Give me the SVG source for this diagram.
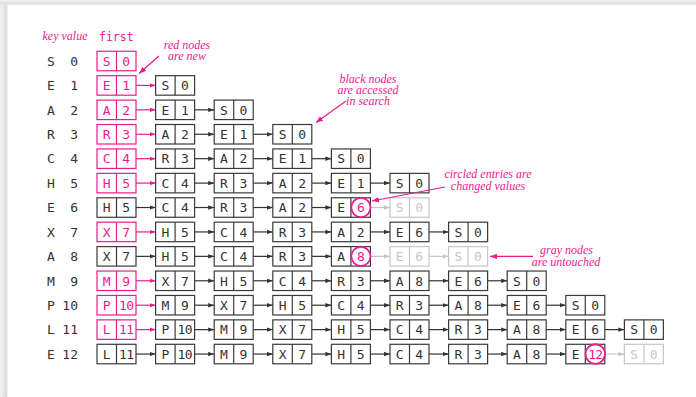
<svg xmlns="http://www.w3.org/2000/svg" xmlns:xlink="http://www.w3.org/1999/xlink" width="696" height="397" viewBox="0 0 696 397">
<style>
.nb{stroke:#3a3a3a;stroke-width:1.2}
.np{stroke:#ec1c8c;stroke-width:1.2}
.ng{stroke:#c6c6c6;stroke-width:1.2}
.nb text,.np text,.ng text,.key text{font-family:"DejaVu Sans Mono",monospace;font-size:13px;text-anchor:middle;stroke:none}
.nb text{fill:#333}
.np text{fill:#ec1c8c}
.ng text{fill:#c6c6c6}
.nb text.pt{fill:#ec1c8c}
.circ{fill:#fff;stroke:#ec1c8c;stroke-width:1.8}
.key text{fill:#333}
.key text.v{text-anchor:end}
.cb{stroke:#333;stroke-width:1.2;marker-end:url(#ab)}
.cp{stroke:#ec1c8c;stroke-width:1.2;marker-end:url(#ap)}
.cg{stroke:#c6c6c6;stroke-width:1.2;marker-end:url(#ag)}
.ann{font-family:"Liberation Serif",serif;font-style:italic;font-size:12px;fill:#ec1c8c;text-anchor:middle}
.ca{stroke:#ec1c8c;stroke-width:1.2;marker-end:url(#ap2)}
.hd{fill:#ec1c8c;font-family:"DejaVu Sans Mono",monospace;font-size:11.5px}
</style>
<defs>
<g id="box"><rect width="39" height="19.5" fill="#fff"/><line x1="19.5" y1="0" x2="19.5" y2="19.5"/></g>
<marker id="ab" markerWidth="6" markerHeight="5" refX="6" refY="2.5" orient="auto" markerUnits="userSpaceOnUse"><path d="M0,0.3L6,2.5L0,4.7z" fill="#333"/></marker>
<marker id="ap" markerWidth="6" markerHeight="5" refX="6" refY="2.5" orient="auto" markerUnits="userSpaceOnUse"><path d="M0,0.3L6,2.5L0,4.7z" fill="#ec1c8c"/></marker>
<marker id="ag" markerWidth="6" markerHeight="5" refX="6" refY="2.5" orient="auto" markerUnits="userSpaceOnUse"><path d="M0,0.3L6,2.5L0,4.7z" fill="#c6c6c6"/></marker>
<marker id="ap2" markerWidth="7" markerHeight="6" refX="7" refY="3" orient="auto" markerUnits="userSpaceOnUse"><path d="M0,0.3L7,3L0,5.7z" fill="#ec1c8c"/></marker>
<linearGradient id="lg" x1="0" y1="0" x2="1" y2="0"><stop offset="0" stop-color="#f2f2f2"/><stop offset="0.85" stop-color="#dcdcdc"/><stop offset="1" stop-color="#ffffff"/></linearGradient>
<linearGradient id="tg" x1="0" y1="0" x2="0" y2="1"><stop offset="0" stop-color="#f2f2f2"/><stop offset="0.85" stop-color="#dcdcdc"/><stop offset="1" stop-color="#ffffff"/></linearGradient>
</defs>
<rect width="696" height="397" fill="#fff"/>
<rect x="0" y="0" width="8" height="397" fill="url(#lg)"/>
<rect x="0" y="0" width="696" height="5" fill="url(#tg)"/>

<g id="header">
<text class="ann" x="65" y="39.5">key value</text>
<text class="hd" x="99" y="40.5">first</text>
</g>

<g class="key" id="keys">
<text x="51" y="65.7">S</text><text class="v" x="78" y="65.7">0</text>
<text x="51" y="90.1">E</text><text class="v" x="78" y="90.1">1</text>
<text x="51" y="114.5">A</text><text class="v" x="78" y="114.5">2</text>
<text x="51" y="139">R</text><text class="v" x="78" y="139">3</text>
<text x="51" y="163.4">C</text><text class="v" x="78" y="163.4">4</text>
<text x="51" y="187.8">H</text><text class="v" x="78" y="187.8">5</text>
<text x="51" y="212.2">E</text><text class="v" x="78" y="212.2">6</text>
<text x="51" y="236.6">X</text><text class="v" x="78" y="236.6">7</text>
<text x="51" y="261.1">A</text><text class="v" x="78" y="261.1">8</text>
<text x="51" y="285.5">M</text><text class="v" x="78" y="285.5">9</text>
<text x="51" y="309.9">P</text><text class="v" x="78" y="309.9">10</text>
<text x="51" y="334.3">L</text><text class="v" x="78" y="334.3">11</text>
<text x="51" y="358.7">E</text><text class="v" x="78" y="358.7">12</text>
</g>

<g id="connectors">
<line class="cp" x1="136" y1="85.42" x2="155.6" y2="85.42"/>
<line class="cp" x1="136" y1="109.84" x2="155.6" y2="109.84"/>
<line class="cb" x1="194.6" y1="109.84" x2="214.2" y2="109.84"/>
<line class="cp" x1="136" y1="134.26" x2="155.6" y2="134.26"/>
<line class="cb" x1="194.6" y1="134.26" x2="214.2" y2="134.26"/>
<line class="cb" x1="253.2" y1="134.26" x2="272.8" y2="134.26"/>
<line class="cp" x1="136" y1="158.68" x2="155.6" y2="158.68"/>
<line class="cb" x1="194.6" y1="158.68" x2="214.2" y2="158.68"/>
<line class="cb" x1="253.2" y1="158.68" x2="272.8" y2="158.68"/>
<line class="cb" x1="311.8" y1="158.68" x2="331.4" y2="158.68"/>
<line class="cp" x1="136" y1="183.1" x2="155.6" y2="183.1"/>
<line class="cb" x1="194.6" y1="183.1" x2="214.2" y2="183.1"/>
<line class="cb" x1="253.2" y1="183.1" x2="272.8" y2="183.1"/>
<line class="cb" x1="311.8" y1="183.1" x2="331.4" y2="183.1"/>
<line class="cb" x1="370.4" y1="183.1" x2="390" y2="183.1"/>
<line class="cb" x1="136" y1="207.52" x2="155.6" y2="207.52"/>
<line class="cb" x1="194.6" y1="207.52" x2="214.2" y2="207.52"/>
<line class="cb" x1="253.2" y1="207.52" x2="272.8" y2="207.52"/>
<line class="cb" x1="311.8" y1="207.52" x2="331.4" y2="207.52"/>
<line class="cg" x1="371" y1="207.52" x2="390" y2="207.52"/>
<line class="cp" x1="136" y1="231.94" x2="155.6" y2="231.94"/>
<line class="cb" x1="194.6" y1="231.94" x2="214.2" y2="231.94"/>
<line class="cb" x1="253.2" y1="231.94" x2="272.8" y2="231.94"/>
<line class="cb" x1="311.8" y1="231.94" x2="331.4" y2="231.94"/>
<line class="cb" x1="370.4" y1="231.94" x2="390" y2="231.94"/>
<line class="cb" x1="429" y1="231.94" x2="448.6" y2="231.94"/>
<line class="cb" x1="136" y1="256.36" x2="155.6" y2="256.36"/>
<line class="cb" x1="194.6" y1="256.36" x2="214.2" y2="256.36"/>
<line class="cb" x1="253.2" y1="256.36" x2="272.8" y2="256.36"/>
<line class="cb" x1="311.8" y1="256.36" x2="331.4" y2="256.36"/>
<line class="cg" x1="371" y1="256.36" x2="390" y2="256.36"/>
<line class="cg" x1="429" y1="256.36" x2="448.6" y2="256.36"/>
<line class="cp" x1="136" y1="280.78" x2="155.6" y2="280.78"/>
<line class="cb" x1="194.6" y1="280.78" x2="214.2" y2="280.78"/>
<line class="cb" x1="253.2" y1="280.78" x2="272.8" y2="280.78"/>
<line class="cb" x1="311.8" y1="280.78" x2="331.4" y2="280.78"/>
<line class="cb" x1="370.4" y1="280.78" x2="390" y2="280.78"/>
<line class="cb" x1="429" y1="280.78" x2="448.6" y2="280.78"/>
<line class="cb" x1="487.6" y1="280.78" x2="507.2" y2="280.78"/>
<line class="cp" x1="136" y1="305.2" x2="155.6" y2="305.2"/>
<line class="cb" x1="194.6" y1="305.2" x2="214.2" y2="305.2"/>
<line class="cb" x1="253.2" y1="305.2" x2="272.8" y2="305.2"/>
<line class="cb" x1="311.8" y1="305.2" x2="331.4" y2="305.2"/>
<line class="cb" x1="370.4" y1="305.2" x2="390" y2="305.2"/>
<line class="cb" x1="429" y1="305.2" x2="448.6" y2="305.2"/>
<line class="cb" x1="487.6" y1="305.2" x2="507.2" y2="305.2"/>
<line class="cb" x1="546.2" y1="305.2" x2="565.8" y2="305.2"/>
<line class="cp" x1="136" y1="329.62" x2="155.6" y2="329.62"/>
<line class="cb" x1="194.6" y1="329.62" x2="214.2" y2="329.62"/>
<line class="cb" x1="253.2" y1="329.62" x2="272.8" y2="329.62"/>
<line class="cb" x1="311.8" y1="329.62" x2="331.4" y2="329.62"/>
<line class="cb" x1="370.4" y1="329.62" x2="390" y2="329.62"/>
<line class="cb" x1="429" y1="329.62" x2="448.6" y2="329.62"/>
<line class="cb" x1="487.6" y1="329.62" x2="507.2" y2="329.62"/>
<line class="cb" x1="546.2" y1="329.62" x2="565.8" y2="329.62"/>
<line class="cb" x1="604.8" y1="329.62" x2="624.4" y2="329.62"/>
<line class="cb" x1="136" y1="354.04" x2="155.6" y2="354.04"/>
<line class="cb" x1="194.6" y1="354.04" x2="214.2" y2="354.04"/>
<line class="cb" x1="253.2" y1="354.04" x2="272.8" y2="354.04"/>
<line class="cb" x1="311.8" y1="354.04" x2="331.4" y2="354.04"/>
<line class="cb" x1="370.4" y1="354.04" x2="390" y2="354.04"/>
<line class="cb" x1="429" y1="354.04" x2="448.6" y2="354.04"/>
<line class="cb" x1="487.6" y1="354.04" x2="507.2" y2="354.04"/>
<line class="cb" x1="546.2" y1="354.04" x2="565.8" y2="354.04"/>
<line class="cg" x1="606" y1="354.04" x2="624.4" y2="354.04"/>
</g>

<g id="nodes">
<!-- row 0 -->
<g id="n0_0" class="np" transform="translate(97,51.25)"><use href="#box"/><text x="9.75" y="14.5">S</text><text x="29.25" y="14.5">0</text></g>
<!-- row 1 -->
<g id="n1_0" class="np" transform="translate(97,75.67)"><use href="#box"/><text x="9.75" y="14.5">E</text><text x="29.25" y="14.5">1</text></g>
<g id="n1_1" class="nb" transform="translate(155.6,75.67)"><use href="#box"/><text x="9.75" y="14.5">S</text><text x="29.25" y="14.5">0</text></g>
<!-- row 2 -->
<g id="n2_0" class="np" transform="translate(97,100.09)"><use href="#box"/><text x="9.75" y="14.5">A</text><text x="29.25" y="14.5">2</text></g>
<g id="n2_1" class="nb" transform="translate(155.6,100.09)"><use href="#box"/><text x="9.75" y="14.5">E</text><text x="29.25" y="14.5">1</text></g>
<g id="n2_2" class="nb" transform="translate(214.2,100.09)"><use href="#box"/><text x="9.75" y="14.5">S</text><text x="29.25" y="14.5">0</text></g>
<!-- row 3 -->
<g id="n3_0" class="np" transform="translate(97,124.51)"><use href="#box"/><text x="9.75" y="14.5">R</text><text x="29.25" y="14.5">3</text></g>
<g id="n3_1" class="nb" transform="translate(155.6,124.51)"><use href="#box"/><text x="9.75" y="14.5">A</text><text x="29.25" y="14.5">2</text></g>
<g id="n3_2" class="nb" transform="translate(214.2,124.51)"><use href="#box"/><text x="9.75" y="14.5">E</text><text x="29.25" y="14.5">1</text></g>
<g id="n3_3" class="nb" transform="translate(272.8,124.51)"><use href="#box"/><text x="9.75" y="14.5">S</text><text x="29.25" y="14.5">0</text></g>
<!-- row 4 -->
<g id="n4_0" class="np" transform="translate(97,148.93)"><use href="#box"/><text x="9.75" y="14.5">C</text><text x="29.25" y="14.5">4</text></g>
<g id="n4_1" class="nb" transform="translate(155.6,148.93)"><use href="#box"/><text x="9.75" y="14.5">R</text><text x="29.25" y="14.5">3</text></g>
<g id="n4_2" class="nb" transform="translate(214.2,148.93)"><use href="#box"/><text x="9.75" y="14.5">A</text><text x="29.25" y="14.5">2</text></g>
<g id="n4_3" class="nb" transform="translate(272.8,148.93)"><use href="#box"/><text x="9.75" y="14.5">E</text><text x="29.25" y="14.5">1</text></g>
<g id="n4_4" class="nb" transform="translate(331.4,148.93)"><use href="#box"/><text x="9.75" y="14.5">S</text><text x="29.25" y="14.5">0</text></g>
<!-- row 5 -->
<g id="n5_0" class="np" transform="translate(97,173.35)"><use href="#box"/><text x="9.75" y="14.5">H</text><text x="29.25" y="14.5">5</text></g>
<g id="n5_1" class="nb" transform="translate(155.6,173.35)"><use href="#box"/><text x="9.75" y="14.5">C</text><text x="29.25" y="14.5">4</text></g>
<g id="n5_2" class="nb" transform="translate(214.2,173.35)"><use href="#box"/><text x="9.75" y="14.5">R</text><text x="29.25" y="14.5">3</text></g>
<g id="n5_3" class="nb" transform="translate(272.8,173.35)"><use href="#box"/><text x="9.75" y="14.5">A</text><text x="29.25" y="14.5">2</text></g>
<g id="n5_4" class="nb" transform="translate(331.4,173.35)"><use href="#box"/><text x="9.75" y="14.5">E</text><text x="29.25" y="14.5">1</text></g>
<g id="n5_5" class="nb" transform="translate(390,173.35)"><use href="#box"/><text x="9.75" y="14.5">S</text><text x="29.25" y="14.5">0</text></g>
<!-- row 6 -->
<g id="n6_0" class="nb" transform="translate(97,197.77)"><use href="#box"/><text x="9.75" y="14.5">H</text><text x="29.25" y="14.5">5</text></g>
<g id="n6_1" class="nb" transform="translate(155.6,197.77)"><use href="#box"/><text x="9.75" y="14.5">C</text><text x="29.25" y="14.5">4</text></g>
<g id="n6_2" class="nb" transform="translate(214.2,197.77)"><use href="#box"/><text x="9.75" y="14.5">R</text><text x="29.25" y="14.5">3</text></g>
<g id="n6_3" class="nb" transform="translate(272.8,197.77)"><use href="#box"/><text x="9.75" y="14.5">A</text><text x="29.25" y="14.5">2</text></g>
<g id="n6_4" class="nb" transform="translate(331.4,197.77)"><use href="#box"/><text x="9.75" y="14.5">E</text><circle class="circ" cx="29.5" cy="9.75" r="9.6"/><text class="pt" x="29.5" y="14.5">6</text></g>
<g id="n6_5" class="ng" transform="translate(390,197.77)"><use href="#box"/><text x="9.75" y="14.5">S</text><text x="29.25" y="14.5">0</text></g>
<!-- row 7 -->
<g id="n7_0" class="np" transform="translate(97,222.19)"><use href="#box"/><text x="9.75" y="14.5">X</text><text x="29.25" y="14.5">7</text></g>
<g id="n7_1" class="nb" transform="translate(155.6,222.19)"><use href="#box"/><text x="9.75" y="14.5">H</text><text x="29.25" y="14.5">5</text></g>
<g id="n7_2" class="nb" transform="translate(214.2,222.19)"><use href="#box"/><text x="9.75" y="14.5">C</text><text x="29.25" y="14.5">4</text></g>
<g id="n7_3" class="nb" transform="translate(272.8,222.19)"><use href="#box"/><text x="9.75" y="14.5">R</text><text x="29.25" y="14.5">3</text></g>
<g id="n7_4" class="nb" transform="translate(331.4,222.19)"><use href="#box"/><text x="9.75" y="14.5">A</text><text x="29.25" y="14.5">2</text></g>
<g id="n7_5" class="nb" transform="translate(390,222.19)"><use href="#box"/><text x="9.75" y="14.5">E</text><text x="29.25" y="14.5">6</text></g>
<g id="n7_6" class="nb" transform="translate(448.6,222.19)"><use href="#box"/><text x="9.75" y="14.5">S</text><text x="29.25" y="14.5">0</text></g>
<!-- row 8 -->
<g id="n8_0" class="nb" transform="translate(97,246.61)"><use href="#box"/><text x="9.75" y="14.5">X</text><text x="29.25" y="14.5">7</text></g>
<g id="n8_1" class="nb" transform="translate(155.6,246.61)"><use href="#box"/><text x="9.75" y="14.5">H</text><text x="29.25" y="14.5">5</text></g>
<g id="n8_2" class="nb" transform="translate(214.2,246.61)"><use href="#box"/><text x="9.75" y="14.5">C</text><text x="29.25" y="14.5">4</text></g>
<g id="n8_3" class="nb" transform="translate(272.8,246.61)"><use href="#box"/><text x="9.75" y="14.5">R</text><text x="29.25" y="14.5">3</text></g>
<g id="n8_4" class="nb" transform="translate(331.4,246.61)"><use href="#box"/><text x="9.75" y="14.5">A</text><circle class="circ" cx="29.5" cy="9.75" r="9.6"/><text class="pt" x="29.5" y="14.5">8</text></g>
<g id="n8_5" class="ng" transform="translate(390,246.61)"><use href="#box"/><text x="9.75" y="14.5">E</text><text x="29.25" y="14.5">6</text></g>
<g id="n8_6" class="ng" transform="translate(448.6,246.61)"><use href="#box"/><text x="9.75" y="14.5">S</text><text x="29.25" y="14.5">0</text></g>
<!-- row 9 -->
<g id="n9_0" class="np" transform="translate(97,271.03)"><use href="#box"/><text x="9.75" y="14.5">M</text><text x="29.25" y="14.5">9</text></g>
<g id="n9_1" class="nb" transform="translate(155.6,271.03)"><use href="#box"/><text x="9.75" y="14.5">X</text><text x="29.25" y="14.5">7</text></g>
<g id="n9_2" class="nb" transform="translate(214.2,271.03)"><use href="#box"/><text x="9.75" y="14.5">H</text><text x="29.25" y="14.5">5</text></g>
<g id="n9_3" class="nb" transform="translate(272.8,271.03)"><use href="#box"/><text x="9.75" y="14.5">C</text><text x="29.25" y="14.5">4</text></g>
<g id="n9_4" class="nb" transform="translate(331.4,271.03)"><use href="#box"/><text x="9.75" y="14.5">R</text><text x="29.25" y="14.5">3</text></g>
<g id="n9_5" class="nb" transform="translate(390,271.03)"><use href="#box"/><text x="9.75" y="14.5">A</text><text x="29.25" y="14.5">8</text></g>
<g id="n9_6" class="nb" transform="translate(448.6,271.03)"><use href="#box"/><text x="9.75" y="14.5">E</text><text x="29.25" y="14.5">6</text></g>
<g id="n9_7" class="nb" transform="translate(507.2,271.03)"><use href="#box"/><text x="9.75" y="14.5">S</text><text x="29.25" y="14.5">0</text></g>
<!-- row 10 -->
<g id="n10_0" class="np" transform="translate(97,295.45)"><use href="#box"/><text x="9.75" y="14.5">P</text><text x="29.25" y="14.5" letter-spacing="-0.6">10</text></g>
<g id="n10_1" class="nb" transform="translate(155.6,295.45)"><use href="#box"/><text x="9.75" y="14.5">M</text><text x="29.25" y="14.5">9</text></g>
<g id="n10_2" class="nb" transform="translate(214.2,295.45)"><use href="#box"/><text x="9.75" y="14.5">X</text><text x="29.25" y="14.5">7</text></g>
<g id="n10_3" class="nb" transform="translate(272.8,295.45)"><use href="#box"/><text x="9.75" y="14.5">H</text><text x="29.25" y="14.5">5</text></g>
<g id="n10_4" class="nb" transform="translate(331.4,295.45)"><use href="#box"/><text x="9.75" y="14.5">C</text><text x="29.25" y="14.5">4</text></g>
<g id="n10_5" class="nb" transform="translate(390,295.45)"><use href="#box"/><text x="9.75" y="14.5">R</text><text x="29.25" y="14.5">3</text></g>
<g id="n10_6" class="nb" transform="translate(448.6,295.45)"><use href="#box"/><text x="9.75" y="14.5">A</text><text x="29.25" y="14.5">8</text></g>
<g id="n10_7" class="nb" transform="translate(507.2,295.45)"><use href="#box"/><text x="9.75" y="14.5">E</text><text x="29.25" y="14.5">6</text></g>
<g id="n10_8" class="nb" transform="translate(565.8,295.45)"><use href="#box"/><text x="9.75" y="14.5">S</text><text x="29.25" y="14.5">0</text></g>
<!-- row 11 -->
<g id="n11_0" class="np" transform="translate(97,319.87)"><use href="#box"/><text x="9.75" y="14.5">L</text><text x="29.25" y="14.5" letter-spacing="-0.6">11</text></g>
<g id="n11_1" class="nb" transform="translate(155.6,319.87)"><use href="#box"/><text x="9.75" y="14.5">P</text><text x="29.25" y="14.5" letter-spacing="-0.6">10</text></g>
<g id="n11_2" class="nb" transform="translate(214.2,319.87)"><use href="#box"/><text x="9.75" y="14.5">M</text><text x="29.25" y="14.5">9</text></g>
<g id="n11_3" class="nb" transform="translate(272.8,319.87)"><use href="#box"/><text x="9.75" y="14.5">X</text><text x="29.25" y="14.5">7</text></g>
<g id="n11_4" class="nb" transform="translate(331.4,319.87)"><use href="#box"/><text x="9.75" y="14.5">H</text><text x="29.25" y="14.5">5</text></g>
<g id="n11_5" class="nb" transform="translate(390,319.87)"><use href="#box"/><text x="9.75" y="14.5">C</text><text x="29.25" y="14.5">4</text></g>
<g id="n11_6" class="nb" transform="translate(448.6,319.87)"><use href="#box"/><text x="9.75" y="14.5">R</text><text x="29.25" y="14.5">3</text></g>
<g id="n11_7" class="nb" transform="translate(507.2,319.87)"><use href="#box"/><text x="9.75" y="14.5">A</text><text x="29.25" y="14.5">8</text></g>
<g id="n11_8" class="nb" transform="translate(565.8,319.87)"><use href="#box"/><text x="9.75" y="14.5">E</text><text x="29.25" y="14.5">6</text></g>
<g id="n11_9" class="nb" transform="translate(624.4,319.87)"><use href="#box"/><text x="9.75" y="14.5">S</text><text x="29.25" y="14.5">0</text></g>
<!-- row 12 -->
<g id="n12_0" class="nb" transform="translate(97,344.29)"><use href="#box"/><text x="9.75" y="14.5">L</text><text x="29.25" y="14.5" letter-spacing="-0.6">11</text></g>
<g id="n12_1" class="nb" transform="translate(155.6,344.29)"><use href="#box"/><text x="9.75" y="14.5">P</text><text x="29.25" y="14.5" letter-spacing="-0.6">10</text></g>
<g id="n12_2" class="nb" transform="translate(214.2,344.29)"><use href="#box"/><text x="9.75" y="14.5">M</text><text x="29.25" y="14.5">9</text></g>
<g id="n12_3" class="nb" transform="translate(272.8,344.29)"><use href="#box"/><text x="9.75" y="14.5">X</text><text x="29.25" y="14.5">7</text></g>
<g id="n12_4" class="nb" transform="translate(331.4,344.29)"><use href="#box"/><text x="9.75" y="14.5">H</text><text x="29.25" y="14.5">5</text></g>
<g id="n12_5" class="nb" transform="translate(390,344.29)"><use href="#box"/><text x="9.75" y="14.5">C</text><text x="29.25" y="14.5">4</text></g>
<g id="n12_6" class="nb" transform="translate(448.6,344.29)"><use href="#box"/><text x="9.75" y="14.5">R</text><text x="29.25" y="14.5">3</text></g>
<g id="n12_7" class="nb" transform="translate(507.2,344.29)"><use href="#box"/><text x="9.75" y="14.5">A</text><text x="29.25" y="14.5">8</text></g>
<g id="n12_8" class="nb" transform="translate(565.8,344.29)"><use href="#box"/><text x="9.75" y="14.5">E</text><circle class="circ" cx="29.5" cy="9.75" r="9.8"/><text class="pt" x="29.5" y="14.5" letter-spacing="-0.8">12</text></g>
<g id="n12_9" class="ng" transform="translate(624.4,344.29)"><use href="#box"/><text x="9.75" y="14.5">S</text><text x="29.25" y="14.5">0</text></g>
</g>

<g id="callouts">
<line class="ca" x1="159" y1="56" x2="139" y2="73.5"/>
<text class="ann" x="187" y="48.5">red nodes</text>
<text class="ann" x="187" y="59.5">are new</text>
<line class="ca" x1="346" y1="101" x2="316" y2="122.5"/>
<text class="ann" x="368" y="83">black nodes</text>
<text class="ann" x="368" y="94">are accessed</text>
<text class="ann" x="368" y="105">in search</text>
<line class="ca" x1="445" y1="187" x2="372" y2="201"/>
<text class="ann" x="488" y="178">circled entries are</text>
<text class="ann" x="488" y="189.5">changed values</text>
<line class="ca" x1="533" y1="256.4" x2="490" y2="256.4"/>
<text class="ann" x="566.5" y="253.5">gray nodes</text>
<text class="ann" x="566" y="265.5">are untouched</text>
</g>
</svg>
